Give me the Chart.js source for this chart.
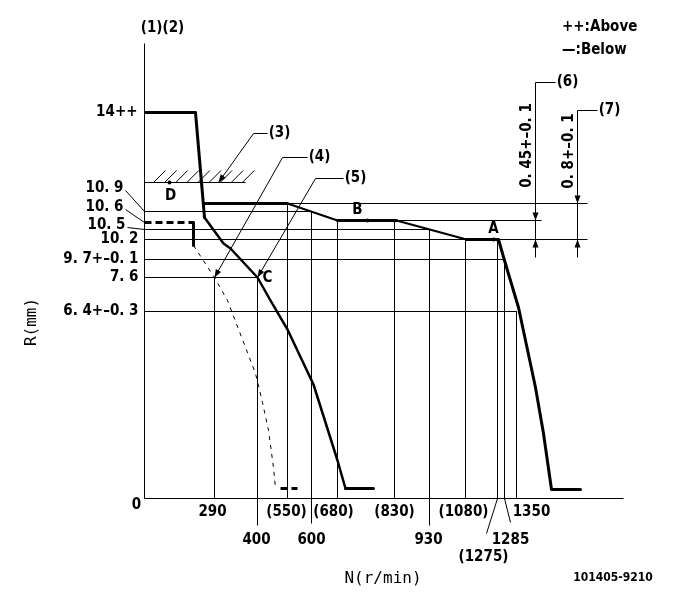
<!DOCTYPE html>
<html>
<head>
<meta charset="utf-8">
<script src="https://cdn.jsdelivr.net/npm/chart.js@4.4.0/dist/chart.umd.min.js"></script>
<style>
  html, body { margin: 0; padding: 0; background: #fff; }
  #wrap { width: 685px; height: 609px; position: relative; }
</style>
</head>
<body>
<div id="wrap"><canvas id="gov"></canvas></div>
<script>
// ---- data (N in r/min, R in mm) ----
const xTicks = [0, 290, 400, 550, 600, 680, 830, 930, 1080, 1275, 1285, 1350];
const xTickText = ['0', '290', '400', '(550)', '600', '(680)', '(830)', '930', '(1080)', '(1275)', '1285', '1350'];
const yTicks = [14, 10.9, 10.6, 10.5, 10.2, 9.7, 7.6, 6.4];
const yTickText = ['14++', '10. 9', '10. 6', '10. 5', '10. 2', '9. 7+\u20130. 1', '7. 6', '6. 4+\u20130. 3'];

// main governor curve (start -> C -> bottom)
const mainN = [0, 210, 250, 313, 330, 400, 465, 550, 605, 680, 700, 775];
const mainR = [14, 14, 10.75, 10.1, 9.97, 7.6, 6.8, 5.8, 3.9, 1.3, 0.34, 0.34];
// full load branch (B, A) and high speed fall
const upperN = [250, 550, 680, 835, 1085, 1276, 1287, 1357, 1412, 1438, 1464, 1560];
const upperR = [11.0, 11.0, 10.65, 10.65, 10.2, 10.2, 9.58, 6.54, 3.8, 2.22, 0.3, 0.3];
// dashed curve
const dashN = [0, 205, 205, 290, 323, 395, 425, 455, 480, 490];
const dashR = [10.6, 10.6, 10.05, 7.6, 6.8, 4.28, 3.28, 2.32, 1.06, 0.34];
const stubN = [515, 570];
const stubR = [0.34, 0.34];
// stopper (hatched) line
const stopN = [0, 370];
const stopR = 11.7;

// reference lines
const hGuideR = [11.0, 10.9, 10.65, 10.5, 10.2, 9.7, 7.6, 6.4];
const hGuideFrom = [550, 0, 835, 0, 0, 0, 0, 0];
const hGuideTo = [1582, 600, 1432, 930, 1582, 1285, 400, 1350];
const vGuideN = [290, 400, 550, 600, 680, 830, 930, 1080, 1275, 1285, 1350];
const vGuideTop = [7.6, 7.6, 11.0, 10.9, 10.65, 10.65, 10.5, 10.2, 10.2, 9.7, 6.4];

// point marks
const tagName = ['A', 'B', 'C', 'D'];
const tagN = [1250, 760, 400, 105];
const tagR = [10.2, 10.65, 7.6, 11.7];

// dimensions (6) (7)
const dimTag = ['(6)', '(7)'];
const dimText = ['0. 45+\u20130. 1', '0. 8+\u20130. 1'];
const dimN = [1412, 1550];
const dimTop = [14.87, 14.06];
const dimHi = [10.65, 11.0];
const dimLo = [10.2, 10.2];
const dimEnd = 9.75;

// callouts (3) (4) (5): target points
const calloutTag = ['(3)', '(4)', '(5)'];
const calloutN = [300, 290, 400];
const calloutR = [11.7, 7.6, 7.6];

// ---- non-uniform drawing scale ----
const warp = {
  x: { v: [0, 290, 400, 550, 600, 680, 830, 930, 1080, 1275, 1285, 1350, 1700],
       f: [0, 0.14614, 0.23591, 0.29854, 0.34864, 0.40292, 0.52192, 0.59499, 0.67015, 0.73695, 0.75157, 0.77662, 1] },
  y: { v: [0, 6.4, 7.6, 9.7, 10.2, 10.5, 10.6, 10.9, 11.0, 14, 16],
       f: [0, 0.41099, 0.48571, 0.52527, 0.56923, 0.59121, 0.60659, 0.63077, 0.64835, 0.84835, 1] }
};

class WarpScale extends Chart.LinearScale {
  getPixelForValue(value) {
    const k = warp[this.id];
    let i = 1;
    while (i < k.v.length - 1 && value > k.v[i]) i++;
    const t = (value - k.v[i - 1]) / (k.v[i] - k.v[i - 1]);
    const dec = k.f[i - 1] + t * (k.f[i] - k.f[i - 1]);
    return Math.round(this.getPixelForDecimal(dec)) + 0.5;
  }
}
WarpScale.id = 'warp';
WarpScale.defaults = {};
Chart.register(WarpScale);

const pts = (ns, rs) => ns.map((n, i) => ({ x: n, y: Array.isArray(rs) ? rs[i] : rs }));

// ---- styles ----
const mainWidth = [3, 3, 2.5, 2.5, 2.5, 2.5, 2.5, 2.5, 2.5, 2.5, 3];
const upperWidth = [3, 2, 3, 2, 3, 3, 3, 3, 3, 3, 3];

const datasets = [];
hGuideR.forEach((r, i) => datasets.push({ data: pts([hGuideFrom[i], hGuideTo[i]], r), borderWidth: 1 }));
vGuideN.forEach((n, i) => datasets.push({ data: [{ x: n, y: vGuideTop[i] }, { x: n, y: 0 }], borderWidth: 1 }));
datasets.push({ data: pts(stopN, stopR), borderWidth: 1 });
datasets.push({
  data: pts(mainN, mainR), borderCapStyle: 'round',
  segment: { borderWidth: c => mainWidth[c.p0DataIndex] }
});
datasets.push({
  data: pts(upperN, upperR), borderCapStyle: 'round',
  segment: { borderWidth: c => upperWidth[c.p0DataIndex] }
});
datasets.push({
  data: pts(dashN, dashR),
  segment: {
    borderWidth: c => (c.p0DataIndex < 2 ? 3 : 1),
    borderDash: c => (c.p0DataIndex < 2 ? [7, 4] : [4, 5])
  }
});
datasets.push({ data: pts(stubN, stubR), borderWidth: 3, borderDash: [7, 4] });

datasets.forEach(d => {
  d.showLine = true;
  d.pointRadius = 0;
  d.borderColor = '#000';
  d.tension = 0;
  d.fill = false;
});

// ---- labels, leaders and marks ----
const BOLD = 'bold 15px "DejaVu Sans Condensed", "DejaVu Sans", sans-serif';
const yLabelLift = [0, 23, 15, 4, 0, 0, 0, 0];
const yLabelGap = [7, 21, 21, 19, 6, 6, 6, 6];
const xLabelRowY = [7, 14, 42, 59];
const xLabelRow = [0, 1, 2, 1, 2, 1, 1, 2, 1, 3, 2, 1];
const xLabelShift = [-8, -2, -1, -1, 0, -4, 0, -1, -2, -14, 6, 15];
const xLeadDx = [0, 0, 0, 0, 0, 0, 0, 0, 0, -11, 6, 0];
const xLeadLen = [0, 0, 27, 0, 25, 0, 0, 27, 0, 35, 24, 0];
const tagOffset = [[0, -10], [-10, -10], [10, 1], [1, 14]];
const calloutElbow = [[35, -49], [68, -120], [58, -99]];
const calloutArm = [14, 25, 28];

const drawing = {
  id: 'drawing',
  afterDatasetsDraw(chart) {
    const ctx = chart.ctx;
    const X = v => chart.scales.x.getPixelForValue(v);
    const Y = v => chart.scales.y.getPixelForValue(v);
    const x0 = X(0), y0 = Y(0);
    ctx.save();
    ctx.strokeStyle = '#000';
    ctx.fillStyle = '#000';
    ctx.lineWidth = 1;
    const line = (a, b, c, d) => { ctx.beginPath(); ctx.moveTo(a, b); ctx.lineTo(c, d); ctx.stroke(); };
    const text = (s, x, y, font, align) => {
      ctx.font = font; ctx.textAlign = align || 'center'; ctx.textBaseline = 'middle';
      ctx.fillText(s, x, y);
    };
    const arrow = (tx, ty, fx, fy) => {
      const a = Math.atan2(ty - fy, tx - fx), L = 8, W = 3;
      const c = Math.cos(a), s = Math.sin(a);
      ctx.beginPath();
      ctx.moveTo(tx, ty);
      ctx.lineTo(tx - L * c + W * s, ty - L * s - W * c);
      ctx.lineTo(tx - L * c - W * s, ty - L * s + W * c);
      ctx.closePath();
      ctx.fill();
    };

    // axes
    line(x0, Y(16), x0, y0);
    line(x0, y0, X(1700), y0);

    // y tick labels
    yTicks.forEach((v, i) => {
      const ly = Y(v) - yLabelLift[i];
      const rx = x0 - yLabelGap[i];
      text(yTickText[i], rx, ly, BOLD, 'right');
      if (yLabelLift[i] > 0) line(rx + 2, ly + 2, x0, Y(v));
    });

    // x tick labels
    xTicks.forEach((v, i) => {
      const px = X(v);
      if (xLeadLen[i]) line(px, y0, px + xLeadDx[i], y0 + xLeadLen[i]);
      text(xTickText[i], px + xLabelShift[i], y0 + xLabelRowY[xLabelRow[i]], BOLD);
    });

    // hatching above stopper line
    const ys = Y(stopR);
    for (let hx = X(stopN[0]) + 9; hx < X(stopN[1]); hx += 11.1) line(hx, ys, hx + 12, ys - 12);

    // point tags
    tagName.forEach((t, i) => {
      const px = X(tagN[i]), py = Y(tagR[i]);
      if (t !== 'C') { ctx.beginPath(); ctx.arc(px, py, 2, 0, Math.PI * 2); ctx.fill(); }
      text(t, px + tagOffset[i][0], py + tagOffset[i][1], BOLD);
    });

    // callouts
    calloutTag.forEach((t, i) => {
      const tx = X(calloutN[i]), ty = Y(calloutR[i]);
      const ex = tx + calloutElbow[i][0], ey = ty + calloutElbow[i][1];
      line(tx, ty, ex, ey);
      line(ex, ey, ex + calloutArm[i], ey);
      arrow(tx, ty, ex, ey);
      text(t, ex + calloutArm[i] + 12, ey, BOLD);
    });

    // dimensions
    dimTag.forEach((t, i) => {
      const px = X(dimN[i]), top = Y(dimTop[i]), hi = Y(dimHi[i]), lo = Y(dimLo[i]);
      line(px, top, px, Y(dimEnd));
      line(px, top, px + 20, top);
      text(t, px + 32, top, BOLD);
      arrow(px, hi, px, hi - 10);
      arrow(px, lo, px, lo + 10);
      ctx.save();
      ctx.translate(px - 8, (top + hi - 12) / 2);
      ctx.rotate(-Math.PI / 2);
      text(dimText[i], 0, 0, BOLD);
      ctx.restore();
    });

    // titles
    text('(1)(2)', x0 + 18, Y(16) - 15, BOLD);
    text('N(r/min)', 383, 579, '16px "DejaVu Sans Mono", monospace');
    ctx.save();
    ctx.translate(32, 322);
    ctx.rotate(-Math.PI / 2);
    text('R(mm)', 0, 0, '16px "DejaVu Sans Mono", monospace');
    ctx.restore();
    text('101405-9210', 613, 578, 'bold 12px "DejaVu Sans Condensed", "DejaVu Sans", sans-serif');
    text('++:Above', 562, 27, BOLD, 'left');
    text('\u2014:Below', 562, 50, BOLD, 'left');
    ctx.restore();
  }
};

new Chart(document.getElementById('gov'), {
  type: 'scatter',
  data: { datasets },
  options: {
    responsive: true,
    maintainAspectRatio: false,
    animation: false,
    events: [],
    layout: { padding: { left: 144, right: 62, top: 43, bottom: 111 } },
    elements: { line: { borderJoinStyle: 'round' } },
    scales: {
      x: { type: 'warp', min: 0, max: 1700, display: false },
      y: { type: 'warp', min: 0, max: 16, display: false }
    },
    plugins: { legend: { display: false }, tooltip: { enabled: false } }
  },
  plugins: [drawing]
});
</script>
</body>
</html>
